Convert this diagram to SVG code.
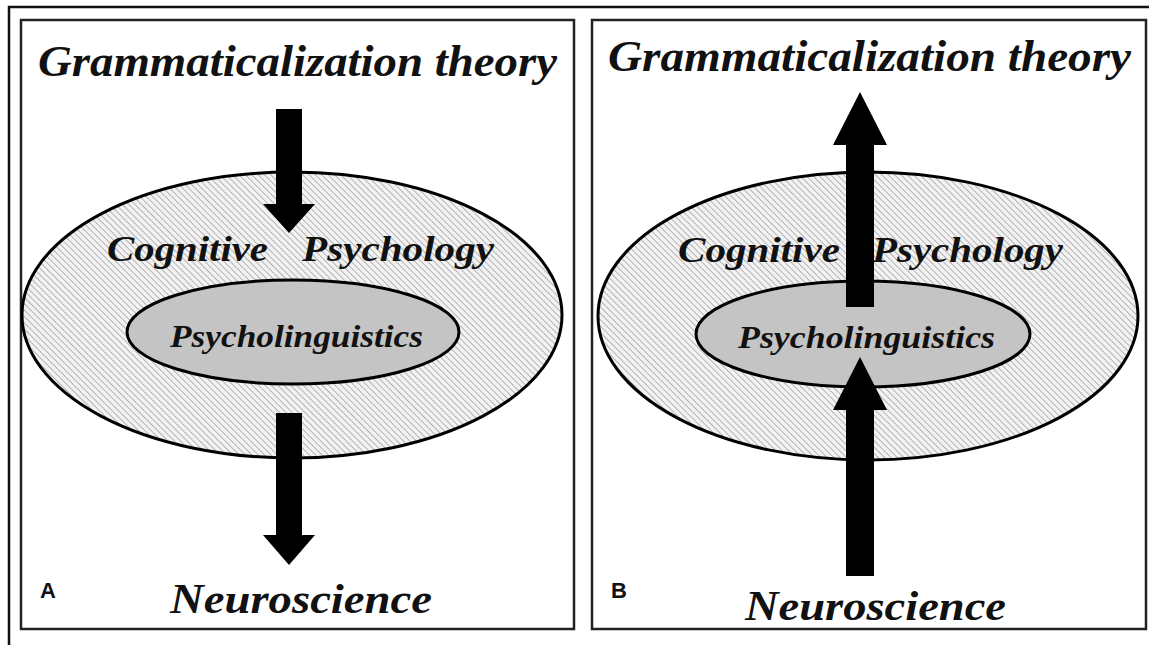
<svg xmlns="http://www.w3.org/2000/svg" width="1149" height="645" viewBox="0 0 1149 645">
<defs>
<pattern id="hatch" width="4.5" height="4.5" patternUnits="userSpaceOnUse" patternTransform="rotate(-45)">
<rect width="4.5" height="4.5" fill="#f2f2f2"/>
<line x1="0" y1="0" x2="0" y2="4.5" stroke="#a0a0a0" stroke-width="1.5"/>
</pattern>
</defs>
<style>
.frame{fill:none;stroke:#222;stroke-width:2.5}
.outer{fill:url(#hatch);stroke:#000;stroke-width:3}
.inner{fill:#c4c4c4;stroke:#000;stroke-width:3}
.t{font-family:"Liberation Serif","Times New Roman",serif;font-style:italic;font-weight:bold;fill:#111}
.lab{font-family:"Liberation Sans",Arial,sans-serif;font-weight:bold;font-size:22px;fill:#111}
.arr{fill:#000}
</style>
<rect width="1149" height="645" fill="#fff"/>
<path d="M9,645 V7 H1149" fill="none" stroke="#111" stroke-width="2.5"/>
<g id="panelA">
<rect class="frame" x="21" y="20" width="553" height="609"/>
<text class="t" x="38" y="76" font-size="45" textLength="519" lengthAdjust="spacingAndGlyphs">Grammaticalization theory</text>
<g id="cogA"><ellipse class="outer" cx="292" cy="315" rx="270" ry="143"/></g>
<g id="psyA"><ellipse class="inner" cx="293" cy="332" rx="166" ry="52"/></g>
<text class="t" x="107" y="261" font-size="35" textLength="161" lengthAdjust="spacingAndGlyphs">Cognitive</text>
<text class="t" x="302" y="261" font-size="35" textLength="192" lengthAdjust="spacingAndGlyphs">Psychology</text>
<text class="t" x="170" y="347" font-size="32" textLength="253" lengthAdjust="spacingAndGlyphs">Psycholinguistics</text>
<text class="t" x="170" y="613" font-size="43" textLength="262" lengthAdjust="spacingAndGlyphs">Neuroscience</text>
<text class="lab" x="40" y="598">A</text>
</g>
<g id="panelB">
<rect class="frame" x="592" y="20" width="554" height="609"/>
<text class="t" x="608" y="71" font-size="45" textLength="523" lengthAdjust="spacingAndGlyphs">Grammaticalization theory</text>
<g id="cogB"><ellipse class="outer" cx="868" cy="316" rx="270" ry="144"/></g>
<g id="psyB"><ellipse class="inner" cx="863" cy="334" rx="167" ry="53"/></g>
<text class="t" x="678" y="262" font-size="35" textLength="162" lengthAdjust="spacingAndGlyphs">Cognitive</text>
<text class="t" x="872" y="262" font-size="35" textLength="191" lengthAdjust="spacingAndGlyphs">Psychology</text>
<text class="t" x="738" y="348" font-size="32" textLength="257" lengthAdjust="spacingAndGlyphs">Psycholinguistics</text>
<text class="t" x="745" y="620" font-size="43" textLength="261" lengthAdjust="spacingAndGlyphs">Neuroscience</text>
<text class="lab" x="611" y="598">B</text>
</g>
<g id="connectors">
<polygon class="arr" points="276,109 302,109 302,204 315,204 289,233 263,204 276,204"/>
<polygon class="arr" points="276,413 302,413 302,535 315,535 289,565 263,535 276,535"/>
<polygon class="arr" points="846,307 874,307 874,145 887,145 860,92 833,145 846,145"/>
<polygon class="arr" points="846,576 874,576 874,410 887,410 860,357 833,410 846,410"/>
</g>
</svg>
